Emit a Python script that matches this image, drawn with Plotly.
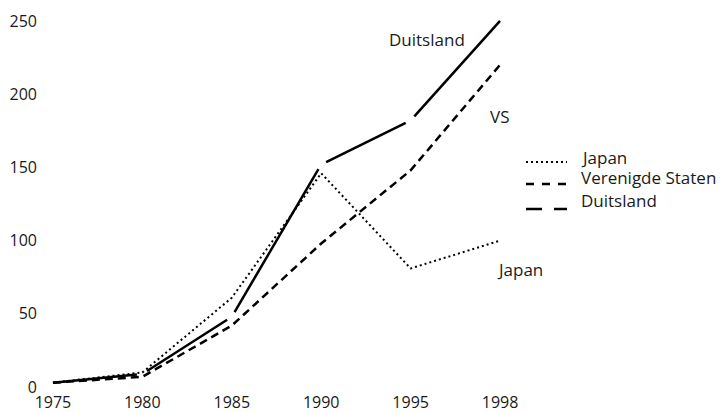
import math
import plotly.graph_objects as go

# Index of aandelen per land, 1975-1998
years = ["1975", "1980", "1985", "1990", "1995", "1998"]
japan = [3, 10, 61, 146, 81, 100]
vs = [3, 7, 42, 98, 148, 220]
duitsland = [3, 9, 48, 152, 182, 250]

y_ticks = [0, 50, 100, 150, 200, 250]

W, H = 720, 412
ML, MR, MT, MB = 44, 211, 18, 22
XR = [-0.1, 5.1]
YR = [-2, 252]
PW, PH = W - ML - MR, H - MT - MB
SX = PW / (XR[1] - XR[0])
SY = PH / (YR[1] - YR[0])

FONT = "Open Sans"
INK = "#1a1a1a"


def px(xp):
    return (xp - ML) / PW


def py(yp):
    return 1 - (yp - MT) / PH


xs = list(range(len(years)))
fig = go.Figure()

fig.add_trace(go.Scatter(
    x=xs, y=japan, mode="lines", name="Japan", showlegend=False,
    line=dict(color="black", width=2, dash="2px,3px")))
fig.add_trace(go.Scatter(
    x=xs, y=vs, mode="lines", name="Verenigde Staten", showlegend=False,
    line=dict(color="black", width=2.5, dash="8px,5px")))

# Duitsland: one stroke per interval, with a small break at each inner year
gap = 5.5
n = len(years)
for i in range(n - 1):
    x0, x1 = xs[i], xs[i + 1]
    y0, y1 = duitsland[i], duitsland[i + 1]
    L = math.hypot((x1 - x0) * SX, (y1 - y0) * SY)
    f0 = gap / L if i > 0 else 0
    f1 = gap / L if i < n - 2 else 0
    fig.add_trace(go.Scatter(
        x=[x0 + f0 * (x1 - x0), x1 - f1 * (x1 - x0)],
        y=[y0 + f0 * (y1 - y0), y1 - f1 * (y1 - y0)],
        mode="lines", name="Duitsland", showlegend=False,
        line=dict(color="black", width=2.5)))

# Series labels beside the lines
labels = [("Duitsland", 3.736, 237), ("VS", 4.866, 185), ("Japan", 4.944, 80)]
annotations = []
for text, ax, ay in labels:
    annotations.append(dict(
        x=ax, y=ay, xref="x", yref="y", text=text, showarrow=False,
        xanchor="left", yanchor="middle",
        font=dict(family=FONT, size=17, color=INK)))

# Legend key
legend_rows = [
    ("Japan", 157, 162, dict(width=2, dash="2px,3px")),
    ("Verenigde Staten", 177, 184, dict(width=2.5, dash="8px,8px")),
    ("Duitsland", 200, 209, dict(width=2.5, dash="16px,12px")),
]
shapes = []
for text, ty, ly, ls in legend_rows:
    shapes.append(dict(
        type="line", xref="paper", yref="paper",
        x0=px(526), x1=px(567), y0=py(ly), y1=py(ly),
        line=dict(color="black", **ls)))
    annotations.append(dict(
        x=px(579), y=py(ty), xref="paper", yref="paper", text=text,
        showarrow=False, xanchor="left", yanchor="middle",
        font=dict(family=FONT, size=17, color=INK)))

fig.update_layout(
    width=W, height=H,
    margin=dict(l=ML, r=MR, t=MT, b=MB, autoexpand=False),
    paper_bgcolor="white", plot_bgcolor="white",
    showlegend=False,
    font=dict(family=FONT, size=17, color=INK),
    xaxis=dict(range=XR, tickmode="array", tickvals=xs, ticktext=years,
               showgrid=False, zeroline=False, showline=False, ticks="",
               automargin=False,
               ticklabelstandoff=1, tickfont=dict(family=FONT, size=16, color=INK)),
    yaxis=dict(range=YR, tickmode="array", tickvals=y_ticks,
               showgrid=False, zeroline=False, showline=False, ticks="",
               automargin=False,
               ticklabelstandoff=6, tickfont=dict(family=FONT, size=16, color=INK)),
    annotations=annotations,
    shapes=shapes,
)

fig.write_html("out.html")
